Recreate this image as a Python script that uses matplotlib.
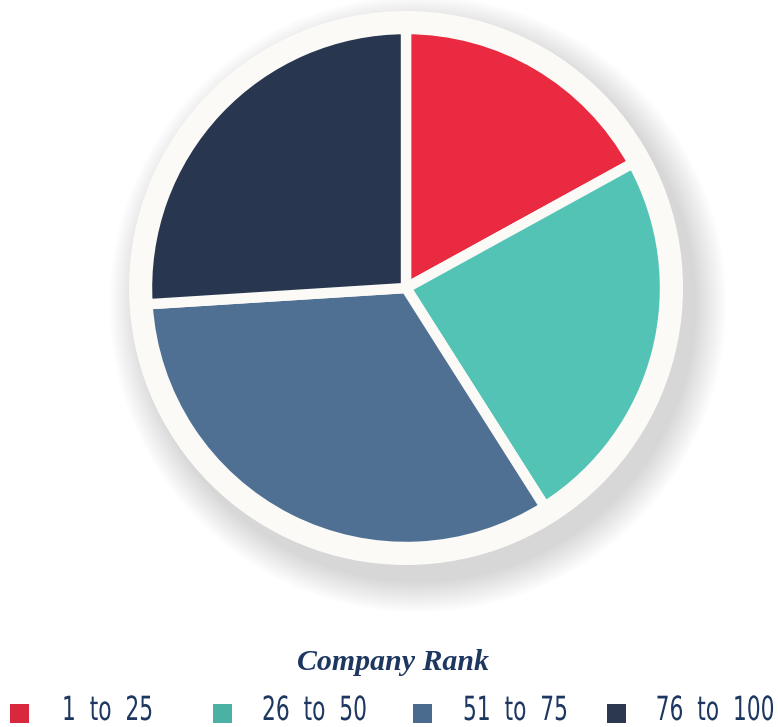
import matplotlib.pyplot as plt
from matplotlib.patches import Circle, Rectangle
from matplotlib.patheffects import AbstractPathEffect
from matplotlib.transforms import Affine2D

# data
labels = ['1  to  25', '26  to  50', '51  to  75', '76  to  100']
shares = [17, 24, 33, 26]
colors = ['#e92a41', '#53c3b6', '#4f7093', '#28374f']
legend_colors = ['#d9283e', '#4bb1a5', '#4a6a8e', '#2b3850']
title = 'Company Rank'
text_color = '#1d3761'


class Stretch(AbstractPathEffect):
    """Scale the glyphs around a fixed point (display px) to mimic a condensed face."""
    def __init__(self, sx, sy, x0, y0):
        super().__init__()
        self.sx, self.sy = sx, sy
        self.x0, self.y0 = x0, y0

    def draw_path(self, renderer, gc, tpath, affine, rgbFace=None):
        t = affine + (Affine2D().translate(-self.x0, -self.y0)
                      .scale(self.sx, self.sy).translate(self.x0, self.y0))
        renderer.draw_path(gc, tpath, t, rgbFace)


W, H = 778, 727
fig = plt.figure(figsize=(W / 100, H / 100), dpi=100)
ax = fig.add_axes([0, 0, 1, 1])

cx, cy = 406, H - 288
r_out, r_in = 277, 259

# soft drop shadow
for k in range(40, 0, -1):
    ax.add_patch(Circle((cx + 12, cy - 16), r_out + k * 0.8, color='#000000',
                        alpha=0.004, lw=0, zorder=1))

ax.add_patch(Circle((cx, cy), r_out, color='#fbfaf7', lw=0, zorder=2))

wedges, _ = ax.pie(shares, colors=colors, startangle=90, counterclock=False,
                   radius=r_in, center=(cx, cy), frame=True,
                   wedgeprops=dict(edgecolor='#fbfaf7', linewidth=7.5))
for w in wedges:
    w.set_zorder(3)
ax.set_xlim(0, W)
ax.set_ylim(0, H)
ax.set_aspect('equal')
ax.axis('off')

ax.text(393, H - 663, title, ha='center', va='center', fontsize=21.5,
        fontfamily='Liberation Serif', fontweight='bold', fontstyle='italic',
        color=text_color)

sq_x = [10, 213, 413, 607]
txt_x = [62, 262, 463, 775]
ty = H - 711
for i in range(4):
    ax.add_patch(Rectangle((sq_x[i], H - 723), 19, 19, color=legend_colors[i], lw=0))
    ha = 'left' if i < 3 else 'right'
    ax.text(txt_x[i], ty, labels[i], ha=ha, va='center', fontsize=16,
            family='DejaVu Sans', color=text_color,
            path_effects=[Stretch(0.98, 1.5, txt_x[i], ty)])

fig.savefig('out.png', dpi=100, facecolor='white')
